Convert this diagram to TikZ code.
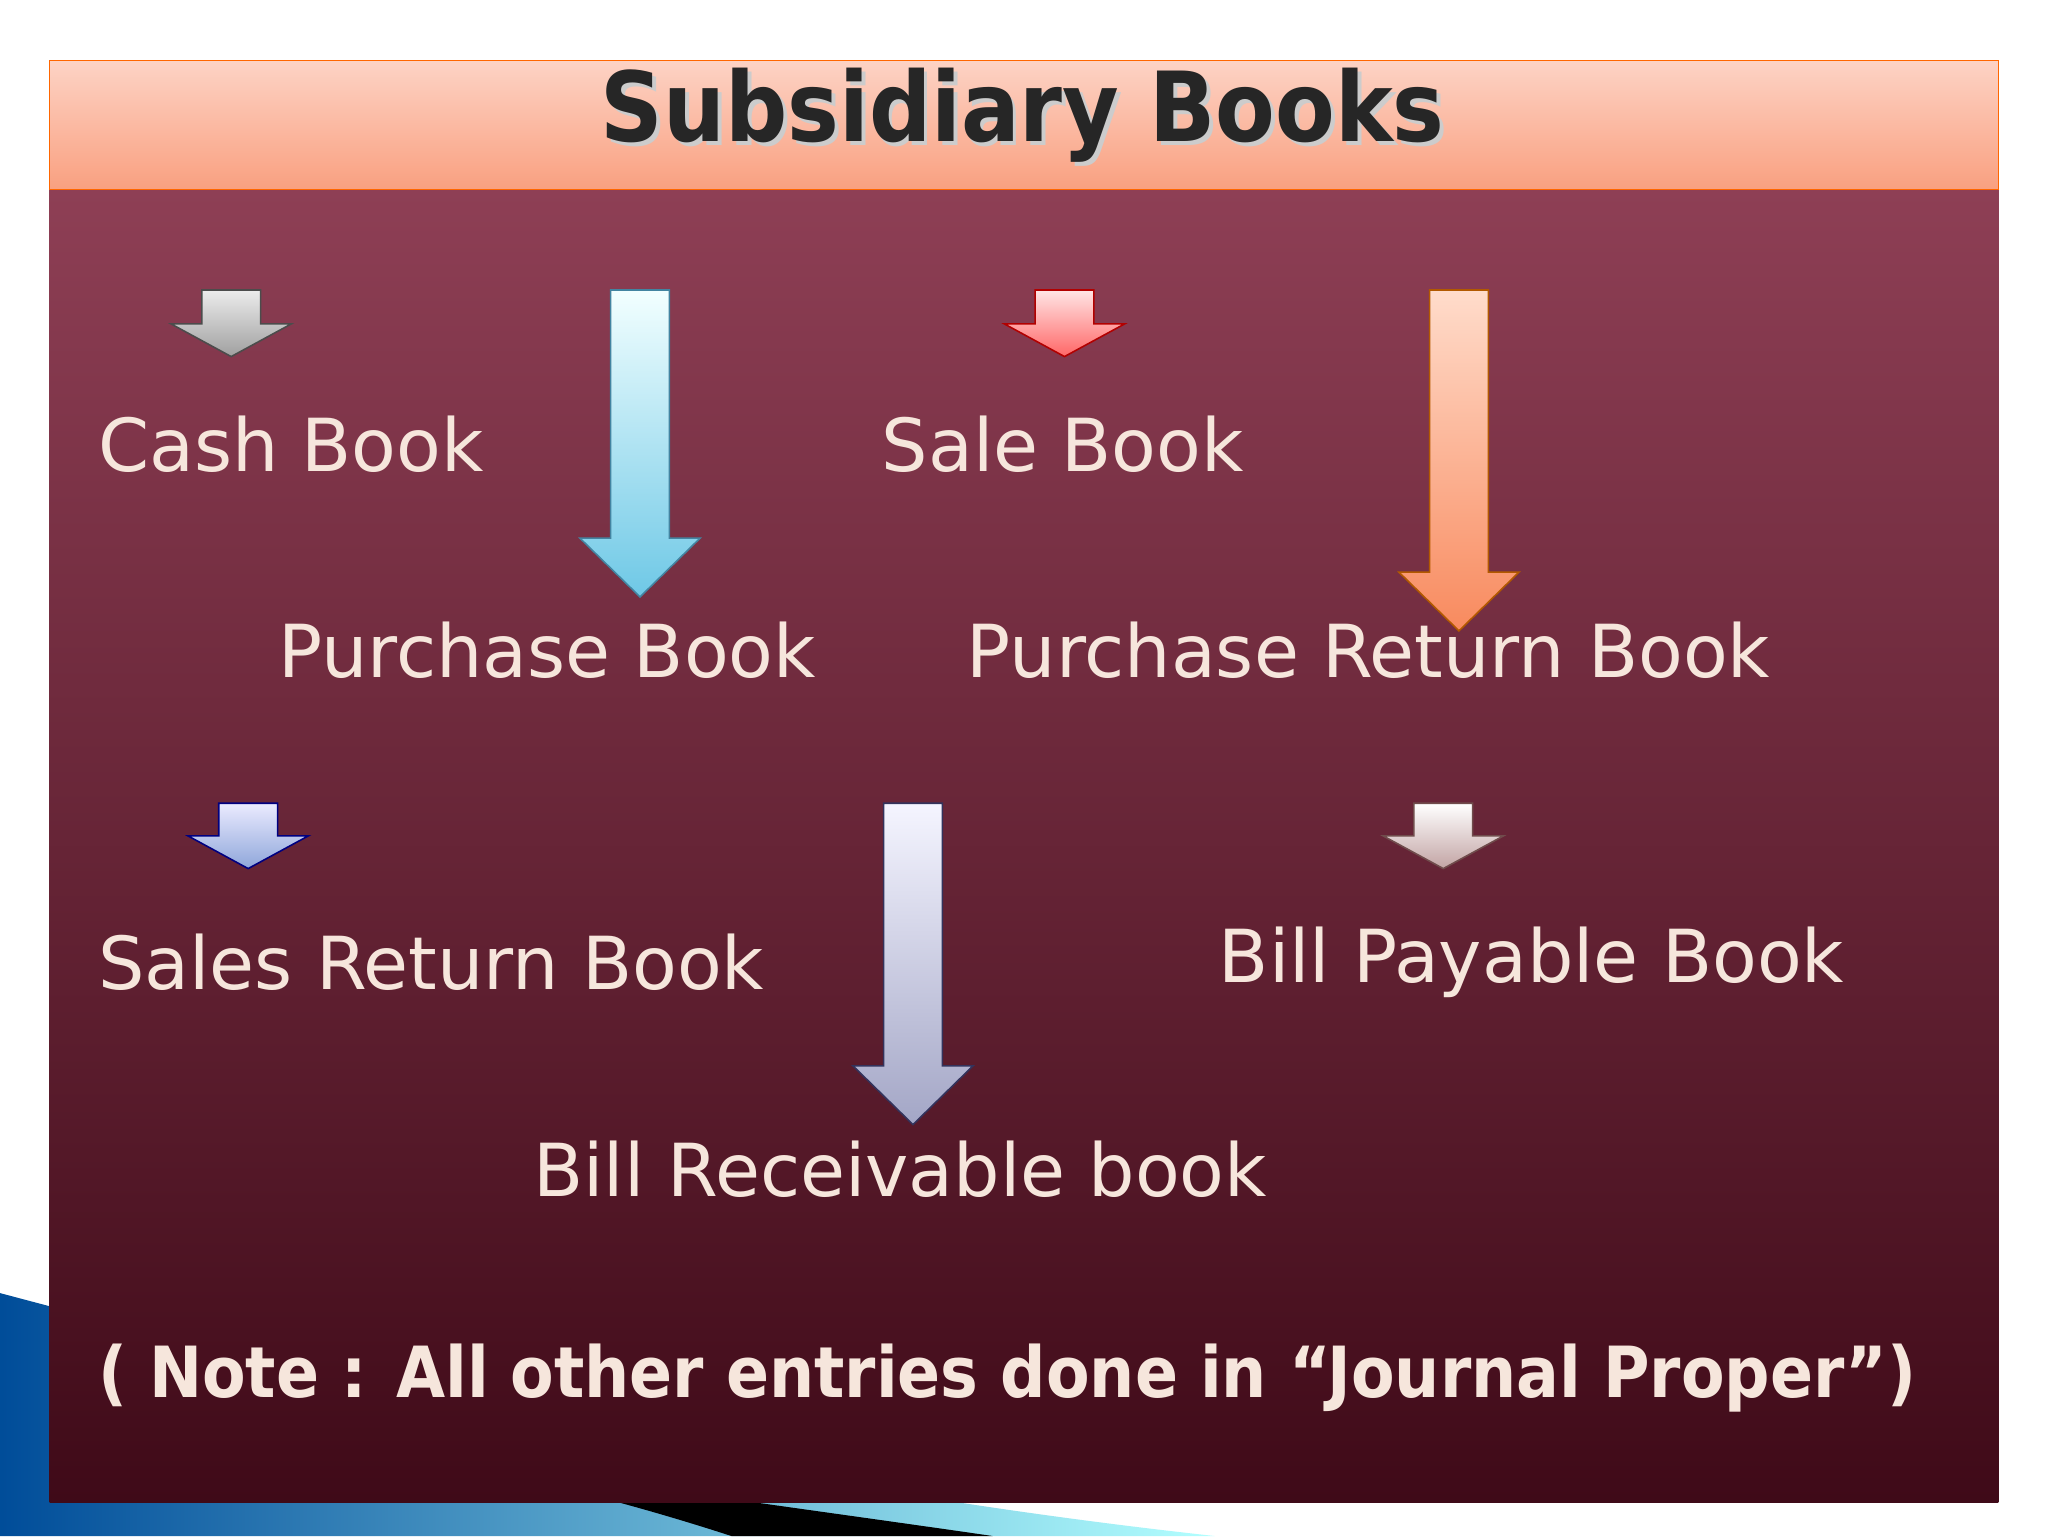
\documentclass[tikz,border=0pt]{standalone}
\usepackage{fontspec}
\setmainfont{DejaVu Sans}
\newfontfamily\condfont{DejaVu Sans Condensed}
\definecolor{HTMLa}{HTML}{8E3F55}
\definecolor{HTMLb}{HTML}{3F0A18}
\definecolor{HTMLc}{HTML}{FDD3C5}
\definecolor{HTMLd}{HTML}{F9A080}
\definecolor{salmtop}{HTML}{FFDCCB}
\definecolor{salmbot}{HTML}{F88A5E}
\definecolor{lavbot}{HTML}{A3A6C6}
\definecolor{bluebot}{HTML}{6EC8E6}
\definecolor{sblbot}{HTML}{8EA6DA}
\newcommand\barrow[7]{% x, ytop, yneck, ytip, topcolor, bottomcolor, border
  \shade[top color=#5,bottom color=#6,draw=#7,line width=1.2pt]
   (#1-22.5,#2) -- (#1+22.5,#2) -- (#1+22.5,#3) -- (#1+46,#3) -- (#1,#4)
   -- (#1-46,#3) -- (#1-22.5,#3) -- cycle;}
\definecolor{lbltext}{HTML}{F6E6DC}
\tikzset{lbl/.style={anchor=west,text=lbltext,font=\fontsize{56}{60}\selectfont,inner sep=0pt}}
\begin{document}
\begin{tikzpicture}[x=1pt,y=-1pt]
\useasboundingbox (0,0) rectangle (1568,1176);
\fill[white] (0,0) rectangle (1568,1176);
% swoosh
\shade[left color=cyan!50!blue!60!black,right color=cyan!30!white] (0,990) .. controls (300,1070) and (600,1140) .. (930,1176) -- (0,1176) -- cycle;
\fill[black] (300,1110) .. controls (500,1140) and (650,1160) .. (760,1176) -- (560,1176) .. controls (480,1150) and (400,1130) .. cycle;
% panel
\shade[top color=HTMLa,bottom color=HTMLb] (38,145) rectangle (1530,1150);
\shade[top color=HTMLc,bottom color=HTMLd,draw=orange!80!red] (38,46) rectangle (1530,145);
\node[font=\condfont\bfseries\fontsize{74}{78}\selectfont,text=white!60!gray] at (786,91) {Subsidiary Books};
\node[font=\condfont\bfseries\fontsize{74}{78}\selectfont,text=black!85] (title) at (783,88) {Subsidiary Books};
% arrows
\barrow{177}{222}{248}{273}{gray!15}{gray!75}{black!70}
\barrow{490}{222}{412}{457}{cyan!5}{bluebot}{cyan!60!black}
\barrow{815}{222}{248}{273}{red!10}{red!60}{red!70!black}
\barrow{1117}{222}{438}{483}{salmtop}{salmbot}{orange!70!black}
\barrow{190}{615}{640}{665}{blue!8}{sblbot}{blue!50!black}
\barrow{699}{615}{816}{861}{blue!4}{lavbot}{blue!20!black!80}
\barrow{1105}{615}{640}{665}{white}{red!20!gray!60}{red!20!black!70}
% labels
\node[lbl] (cash) at (75,340) {Cash Book};
\node[lbl] (sale) at (675,340) {Sale Book};
\node[lbl] (purch) at (213,498) {Purchase Book};
\node[lbl] (pret) at (740,498) {Purchase Return Book};
\node[lbl] (sret) at (75,737) {Sales Return Book};
\node[lbl] (bpay) at (933,737) {Bill Payable Book};
\node[lbl] (brec) at (408,895) {Bill Receivable book};
\node[lbl,font=\condfont\bfseries\fontsize{54}{58}\selectfont] (note) at (75,1055) {( Note : All other entries done in “Journal Proper”)};
\end{tikzpicture}
\end{document}
